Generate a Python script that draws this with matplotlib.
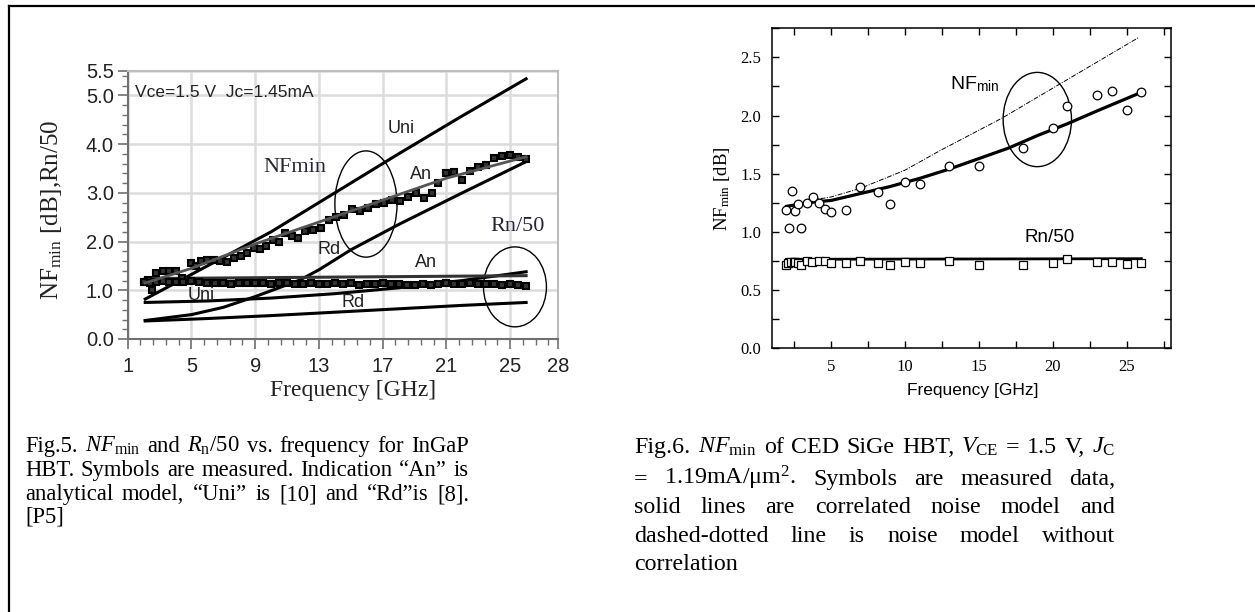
import matplotlib
matplotlib.use("Agg")
import matplotlib.pyplot as plt
from matplotlib.patches import Ellipse
from matplotlib.lines import Line2D
from matplotlib.ticker import FixedLocator, MultipleLocator, FormatStrFormatter
import numpy as np

W, H = 1255, 612

plt.rcParams["font.family"] = ["Liberation Serif", "DejaVu Sans"]
plt.rcParams["mathtext.fontset"] = "custom"
plt.rcParams["mathtext.rm"] = "Liberation Serif"
plt.rcParams["mathtext.it"] = "Liberation Serif:italic"
plt.rcParams["mathtext.sf"] = "Liberation Sans"

SANS = "Liberation Sans"

# ---- Fig.5 (InGaP HBT) ----
nf_meas_f = [2.0, 2.3, 2.5, 2.8, 3.2, 3.6, 4.0, 4.4, 5.0, 5.3, 5.6, 6.0, 6.4, 6.8,
             7.2, 7.7, 8.1, 8.5, 8.9, 9.3, 9.7, 10.1, 10.5, 10.9, 11.3, 11.7, 12.1,
             12.6, 13.1, 13.6, 14.1, 14.6, 15.1, 15.6, 16.1, 16.6, 17.1, 17.6, 18.1,
             18.6, 19.1, 19.6, 20.1, 20.5, 21.0, 21.5, 22.0, 22.5, 23.0, 23.5, 24.0,
             24.5, 25.0, 25.5, 26.0]
nf_meas = [1.18, 1.22, 1.00, 1.36, 1.40, 1.40, 1.39, 1.25, 1.55, 1.50, 1.60, 1.62,
           1.63, 1.60, 1.58, 1.66, 1.70, 1.76, 1.86, 1.84, 1.90, 2.03, 2.00, 2.17,
           2.12, 2.07, 2.22, 2.24, 2.28, 2.45, 2.50, 2.55, 2.66, 2.62, 2.68, 2.78,
           2.80, 2.85, 2.84, 2.92, 2.99, 2.90, 3.00, 3.20, 3.40, 3.42, 3.26, 3.45,
           3.52, 3.58, 3.72, 3.76, 3.78, 3.74, 3.70]

rn_meas_f = [2.0, 2.4, 2.8, 3.2, 3.6, 4.0, 4.5, 5.0, 5.5, 6.0, 6.5, 7.0, 7.5, 8.0,
             8.5, 9.0, 9.5, 10.0, 10.5, 11.0, 11.5, 12.0, 12.5, 13.0, 13.5, 14.0,
             14.5, 15.0, 15.5, 16.0, 16.5, 17.0, 17.5, 18.0, 18.5, 19.0, 19.5, 20.0,
             20.5, 21.0, 21.5, 22.0, 22.5, 23.0, 23.5, 24.0, 24.5, 25.0, 25.5, 26.0]
rn_meas = [1.18, 1.15, 1.18, 1.20, 1.18, 1.18, 1.17, 1.20, 1.16, 1.15, 1.14, 1.14,
           1.13, 1.15, 1.14, 1.14, 1.15, 1.12, 1.14, 1.15, 1.13, 1.13, 1.14, 1.13,
           1.13, 1.14, 1.13, 1.14, 1.10, 1.13, 1.12, 1.14, 1.13, 1.12, 1.11, 1.10,
           1.12, 1.11, 1.13, 1.14, 1.13, 1.12, 1.14, 1.13, 1.12, 1.13, 1.10, 1.12,
           1.10, 1.09]

uni_nf_f = [2.1, 6, 10, 14, 18, 22, 26]
uni_nf = [0.82, 1.50, 2.20, 3.00, 3.80, 4.58, 5.34]
an_nf_f = [2.1, 5, 9, 13, 17, 21, 26]
an_nf = [1.15, 1.45, 1.95, 2.40, 2.85, 3.30, 3.74]
rd_nf_f = [2.1, 5, 7, 9, 11.8, 13, 15, 18, 22, 26]
rd_nf = [0.38, 0.50, 0.65, 0.87, 1.21, 1.42, 1.83, 2.35, 3.00, 3.64]
an_rn_f = [2.1, 10, 18, 26]
an_rn = [1.24, 1.26, 1.28, 1.30]
uni_rn_f = [2.1, 6, 10, 14, 18, 22, 26]
uni_rn = [0.75, 0.78, 0.84, 0.93, 1.05, 1.20, 1.38]
rd_rn_f = [2.1, 6, 10, 14, 18, 22, 26]
rd_rn = [0.37, 0.42, 0.48, 0.55, 0.62, 0.69, 0.75]

# ---- Fig.6 (CED SiGe HBT) ----
circ_f = [2.0, 2.2, 2.4, 2.6, 2.8, 3.0, 3.4, 3.8, 4.2, 4.6, 5.0, 6.0, 7.0, 8.2, 9.0,
          10.0, 11.0, 13.0, 15.0, 18.0, 20.0, 21.0, 23.0, 24.0, 25.0, 26.0]
circ_nf = [1.19, 1.03, 1.35, 1.18, 1.24, 1.03, 1.25, 1.30, 1.25, 1.20, 1.17, 1.19,
           1.39, 1.34, 1.24, 1.43, 1.41, 1.57, 1.57, 1.72, 1.89, 2.08, 2.18, 2.21,
           2.05, 2.20]
sq_f = [2.0, 2.1, 2.3, 2.5, 2.6, 2.8, 3.0, 3.4, 3.7, 4.2, 4.6, 5.0, 6.0, 7.0, 8.2,
        9.0, 10.0, 11.0, 13.0, 15.0, 18.0, 20.0, 21.0, 23.0, 24.0, 25.0, 26.0]
sq_rn = [0.72, 0.73, 0.74, 0.745, 0.745, 0.735, 0.72, 0.75, 0.745, 0.75, 0.75,
         0.73, 0.735, 0.75, 0.735, 0.72, 0.745, 0.735, 0.75, 0.72, 0.72, 0.73,
         0.765, 0.745, 0.74, 0.725, 0.73]
corr_f = [2, 3, 4, 5, 7, 9, 11, 13, 15, 17, 19, 21, 23, 26]
corr_nf = [1.22, 1.24, 1.26, 1.27, 1.33, 1.39, 1.46, 1.54, 1.63, 1.72, 1.83, 1.93,
           2.04, 2.20]
uncorr_f = [2, 3, 4, 5, 7, 10, 12.4, 16.6, 20.2, 25.8]
uncorr_nf = [1.22, 1.25, 1.28, 1.30, 1.375, 1.53, 1.70, 1.98, 2.25, 2.67]
rn_model_f = [2, 26]
rn_model = [0.765, 0.77]


def fig_box(l, t, r, b):
    return [l / W, 1 - b / H, (r - l) / W, (b - t) / H]


def justify(fig, words, base, x0, x1, size):
    rend = fig.canvas.get_renderer()
    texts = [fig.text(0, 1 - base / H, w, size=size, va="baseline", ha="left")
             for w in words]
    widths = [t.get_window_extent(rend).width for t in texts]
    gap = (x1 - x0 - sum(widths)) / max(len(words) - 1, 1)
    x = x0
    for t, w in zip(texts, widths):
        t.set_x(x / W)
        x += w + gap


fig = plt.figure(figsize=(W / 100, H / 100), dpi=100)

# page border (top and left edges)
fig.add_artist(Line2D([9 / W, 1], [1 - 6 / H, 1 - 6 / H], color="black", lw=1.6))
fig.add_artist(Line2D([9 / W, 9 / W], [0, 1 - 6 / H], color="black", lw=1.6))

# ---------------- left chart ----------------
ax1 = fig.add_axes(fig_box(127.7, 71, 558, 339))
ax1.set_xlim(1, 28)
ax1.set_ylim(0, 5.5)
ax1.xaxis.set_major_locator(FixedLocator([1, 5, 9, 13, 17, 21, 25, 28]))
ax1.xaxis.set_minor_locator(FixedLocator(np.arange(1.8, 27.9, 0.8)))
ax1.yaxis.set_major_locator(FixedLocator([0, 1, 2, 3, 4, 5, 5.5]))
ax1.yaxis.set_minor_locator(FixedLocator(np.arange(0.2, 5.45, 0.2)))
ax1.set_yticklabels(["0.0", "1.0", "2.0", "3.0", "4.0", "5.0", "5.5"])
ax1.grid(True, which="major", color="#dcdcdc", lw=1.8)
ax1.set_axisbelow(True)
for s in ["left", "bottom"]:
    ax1.spines[s].set_color("#707070")
    ax1.spines[s].set_linewidth(1.5)
for s in ["top", "right"]:
    ax1.spines[s].set_color("#bdbdbd")
    ax1.spines[s].set_linewidth(1.5)
ax1.tick_params(which="major", direction="out", length=7, width=1.2, color="#707070",
                labelsize=14.5, labelcolor="#222222", pad=3)
ax1.tick_params(which="minor", direction="out", length=4, width=1.0, color="#707070")
ax1.tick_params(axis="x", which="major", pad=6)
for lab in ax1.get_xticklabels() + ax1.get_yticklabels():
    lab.set_fontfamily(SANS)

ax1.plot(uni_nf_f, uni_nf, color="black", lw=2.2)
ax1.plot(rd_nf_f, rd_nf, color="black", lw=2.2)
ax1.plot(uni_rn_f, uni_rn, color="black", lw=2.2)
ax1.plot(rd_rn_f, rd_rn, color="black", lw=2.2)
ax1.plot(an_rn_f, an_rn, color="#333333", lw=2.2)
ax1.plot(nf_meas_f, nf_meas, ls="none", marker="s", ms=4.3, mfc="#333333",
         mec="black", mew=1.5)
ax1.plot(rn_meas_f, rn_meas, ls="none", marker="s", ms=4.3, mfc="#333333",
         mec="black", mew=1.5)
ax1.plot(an_nf_f, an_nf, color="#555555", lw=2.0)

ax1.add_patch(Ellipse((15.95, 2.77), 3.9, 2.18, fill=False, lw=1.0, ec="black"))
ax1.add_patch(Ellipse((25.3, 1.07), 3.95, 1.64, fill=False, lw=1.0, ec="black"))

ax1.text(1.46, 5.05, "Vce=1.5 V  Jc=1.45mA", family=SANS, size=12.5, va="center",
         color="#222222")
for x, y, s in [(17.33, 4.31, "Uni"), (18.71, 3.37, "An"), (12.94, 1.83, "Rd"),
                (19.02, 1.56, "An"), (14.44, 0.74, "Rd"), (4.78, 0.90, "Uni")]:
    ax1.text(x, y, s, family=SANS, size=13, va="center", color="#222222")
ax1.text(9.49, 3.51, "NFmin", size=16, va="center", color="#25253a")
ax1.text(23.73, 2.31, "Rn/50", size=16, va="center", color="#25253a")

fig.text(52 / W, 1 - 210 / H, r"NF$_{\mathrm{min}}$ [dB],Rn/50", rotation=90,
         size=18, ha="center", va="center", color="#222222")
fig.text(353 / W, 1 - 396 / H, "Frequency [GHz]", size=17, ha="center",
         va="baseline", color="#222222")

# ---------------- right chart ----------------
ax2 = fig.add_axes(fig_box(771.7, 28.3, 1171, 348.3))
ax2.set_xlim(1, 28)
ax2.set_ylim(0, 2.75)
ax2.xaxis.set_major_locator(FixedLocator([5, 10, 15, 20, 25]))
ax2.xaxis.set_minor_locator(FixedLocator([2.5, 7.5, 12.5, 17.5, 22.5, 27.5]))
ax2.yaxis.set_major_locator(MultipleLocator(0.5))
ax2.yaxis.set_minor_locator(MultipleLocator(0.25))
ax2.yaxis.set_major_formatter(FormatStrFormatter("%.1f"))
ax2.tick_params(which="both", direction="in", length=5, width=1.0, top=True,
                right=True)
ax2.tick_params(axis="y", which="major", labelsize=12, pad=7.5)
ax2.tick_params(axis="x", which="major", labelsize=12, pad=8)
for s in ax2.spines.values():
    s.set_linewidth(1.1)

ax2.plot(uncorr_f, uncorr_nf, color="black", lw=0.7, ls=(0, (5, 1.5, 1, 1.5)))
ax2.plot(corr_f, corr_nf, color="black", lw=2.3)
ax2.plot(rn_model_f, rn_model, color="black", lw=2.0)
ax2.plot(circ_f, circ_nf, ls="none", marker="o", ms=6.2, mfc="white", mec="black",
         mew=0.9)
ax2.plot(sq_f, sq_rn, ls="none", marker="s", ms=5.2, mfc="white", mec="black",
         mew=0.9)
ax2.add_patch(Ellipse((18.96, 1.966), 4.62, 0.81, fill=False, lw=1.0, ec="black"))

ax2.text(13.05, 2.23, r"NF$_{\mathsf{min}}$", family=SANS, size=14, va="baseline")
ax2.text(18.1, 0.916, "Rn/50", family=SANS, size=13.5, va="baseline")
ax2.set_ylabel(r"NF$_{\mathrm{min}}$ [dB]", size=13.5, labelpad=6)
fig.text(973 / W, 1 - 395 / H, "Frequency [GHz]", family=SANS, size=12.5,
         ha="center", va="baseline")

# ---------------- captions ----------------
cap1 = [
    ["Fig.5.", r"$\mathit{NF}_{\mathrm{min}}$", "and", r"$\mathit{R}_{\mathrm{n}}$/50",
     "vs.", "frequency", "for", "InGaP"],
    ["HBT.", "Symbols", "are", "measured.", "Indication", "\u201cAn\u201d", "is"],
    ["analytical", "model,", "\u201cUni\u201d", "is", "[10]", "and",
     "\u201cRd\u201dis", "[8]."],
]
for words, base in zip(cap1, [452, 476, 500]):
    justify(fig, words, base, 25, 469, 16.3)
fig.text(25 / W, 1 - 523 / H, "[P5]", size=16.3, va="baseline")

cap2 = [
    ["Fig.6.", r"$\mathit{NF}_{\mathrm{min}}$", "of", "CED", "SiGe", "HBT,",
     r"$\mathit{V}_{\mathrm{CE}}$", "=", "1.5", "V,", r"$\mathit{J}_{\mathrm{C}}$"],
    ["=", "1.19mA/\u03bcm$^{2}$.", "Symbols", "are", "measured", "data,"],
    ["solid", "lines", "are", "correlated", "noise", "model", "and"],
    ["dashed-dotted", "line", "is", "noise", "model", "without"],
]
for words, base in zip(cap2, [453, 485, 513, 542]):
    justify(fig, words, base, 634, 1115, 17.3)
fig.text(634 / W, 1 - 570 / H, "correlation", size=17.3, va="baseline")

fig.savefig("out.png", dpi=100)
